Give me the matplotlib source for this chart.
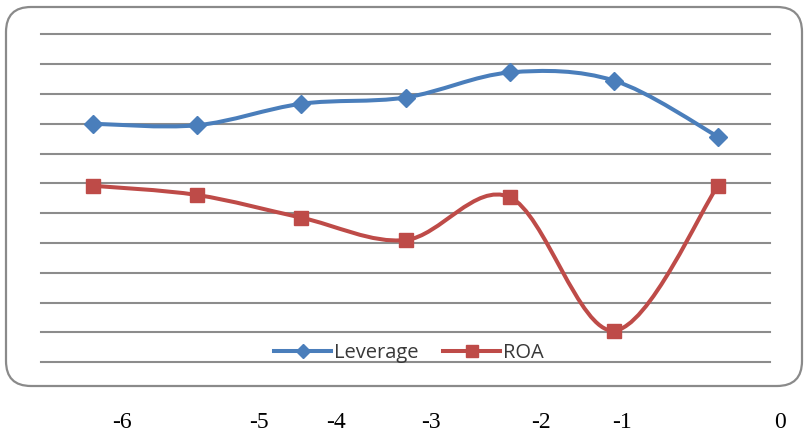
import numpy as np
import matplotlib
matplotlib.use("Agg")
import matplotlib.pyplot as plt
from matplotlib.path import Path
from matplotlib.patches import PathPatch, FancyBboxPatch
from matplotlib.lines import Line2D

# values in gridline units (one unit per horizontal line, 0..11)
periods = [-6, -5, -4, -3, -2, -1, 0]
leverage = [8.0, 7.95, 8.67, 8.88, 9.72, 9.45, 7.57]
roa = [5.92, 5.61, 4.85, 4.1, 5.54, 1.06, 5.92]
tick_labels = ["-6", "-5", "-4", "-3", "-2", "-1", "0"]

BLUE = "#4A7EBB"
RED = "#BE4B48"
GRID = "#8C8C8C"


def smooth_path(xs, ys):
    """Bezier path through the points, like a spreadsheet 'smoothed line'."""
    p = np.column_stack([xs, ys]).astype(float)
    ext = np.vstack([p[0], p, p[-1]])
    verts = [p[0]]
    codes = [Path.MOVETO]
    for i in range(len(p) - 1):
        p0, p1, p2, p3 = ext[i], ext[i + 1], ext[i + 2], ext[i + 3]
        c1 = p1 + (p2 - p0) / 6.0
        c2 = p2 - (p3 - p1) / 6.0
        verts += [c1, c2, p2]
        codes += [Path.CURVE4] * 3
    return Path(verts, codes)


W, H = 805, 433
fig = plt.figure(figsize=(W / 100, H / 100), dpi=100)
fig.patch.set_facecolor("white")

# rounded chart frame
frame = FancyBboxPatch((0.06, 0.47), 7.96, 3.79,
                       boxstyle="round,pad=0,rounding_size=0.25",
                       transform=fig.dpi_scale_trans, facecolor="white",
                       edgecolor="#8A8A8A", linewidth=1.6, zorder=-5)
fig.patches.append(frame)

# plot area: gridlines from x=41 to 770 px, y=34 to 362 px
ax = fig.add_axes([41 / W, 1 - 362.3 / H, (770 - 41) / W, (362.3 - 34.3) / H])
ax.set_zorder(2)
ax.patch.set_visible(False)
x = np.arange(len(periods))
ax.set_xlim(-0.5, len(periods) - 0.5)
ax.set_ylim(0, 11)
ax.set_xticks([])
ax.set_yticks([])
for s in ax.spines.values():
    s.set_visible(False)
for yv in range(0, 12):
    ax.axhline(yv, color=GRID, linewidth=1.5, zorder=1, clip_on=False)

for vals, col, mk, ms in [(leverage, BLUE, "D", 9.5), (roa, RED, "s", 10)]:
    ax.add_patch(PathPatch(smooth_path(x, vals), facecolor="none",
                           edgecolor=col, linewidth=2.9, zorder=3,
                           capstyle="round", joinstyle="round"))
    ax.plot(x, vals, linestyle="none", marker=mk, markersize=ms,
            color=col, zorder=4)

handles = [Line2D([], [], color=BLUE, linewidth=2.9, marker="D", markersize=7),
           Line2D([], [], color=RED, linewidth=2.9, marker="s", markersize=9)]
ax.legend(handles, ["Leverage", "ROA"], loc="center",
          bbox_to_anchor=((409 - 41) / (770 - 41), (362.3 - 353) / (362.3 - 34.3)),
          ncol=2, frameon=False, handlelength=2.8, handletextpad=0.15,
          columnspacing=1.25, prop={"family": "Open Sans", "size": 14.5},
          labelcolor="#383838", borderpad=0, borderaxespad=0)

# period labels under the frame
label_px = [122, 259, 336, 431, 541, 622, 780]
for lab, px in zip(tick_labels, label_px):
    fig.text(px / W, 1 - 423 / H, lab, ha="center", va="center",
             family="Liberation Serif", fontsize=17, color="black")

fig.savefig("out.png", dpi=100, facecolor="white")
